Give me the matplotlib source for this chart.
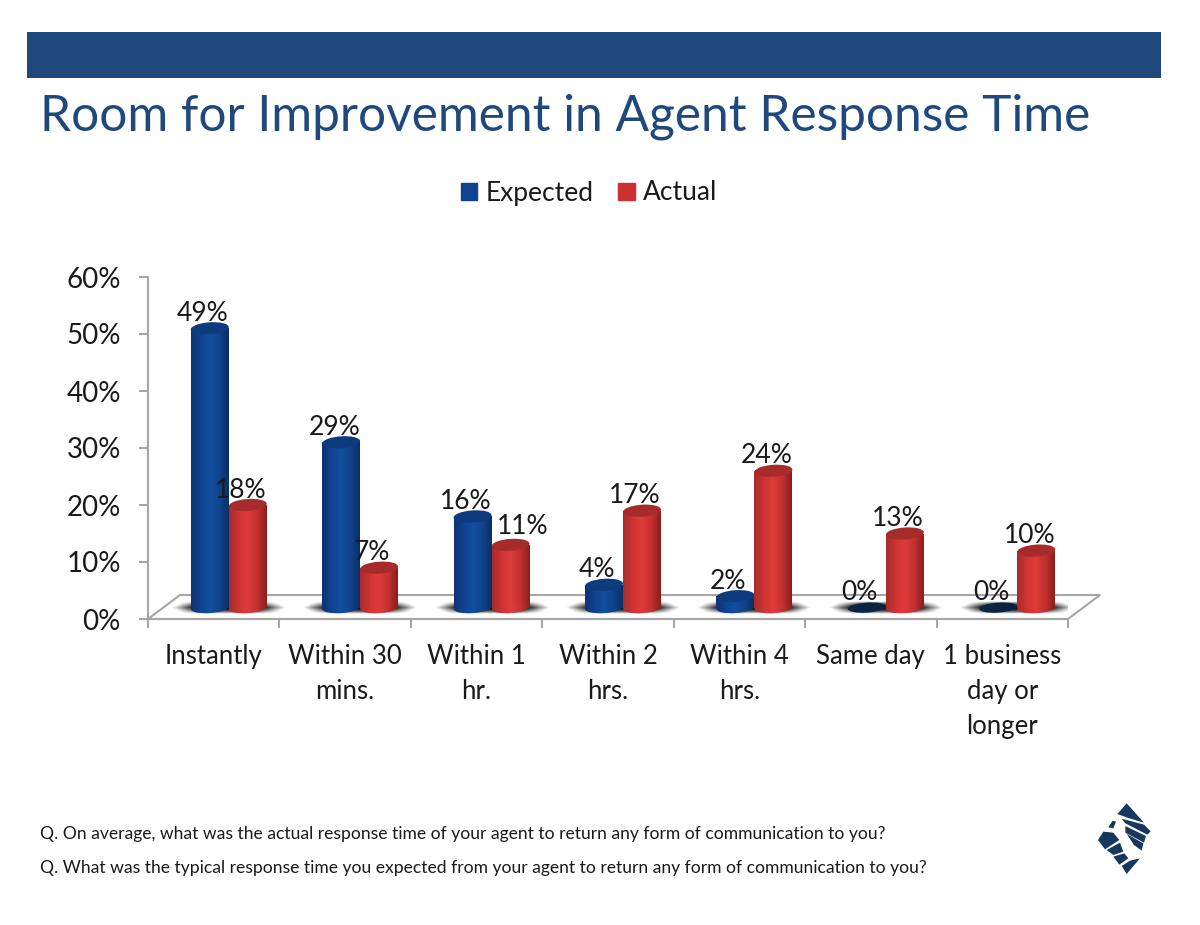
import matplotlib
matplotlib.use('Agg')
import matplotlib.pyplot as plt
import numpy as np
from matplotlib.colors import LinearSegmentedColormap
from matplotlib.patches import Ellipse, Patch, Polygon, Rectangle
from matplotlib.transforms import Affine2D

plt.rcParams['font.family'] = ['Lato', 'DejaVu Sans']

categories = ['Instantly', 'Within 30\nmins.', 'Within 1\nhr.', 'Within 2\nhrs.',
              'Within 4\nhrs.', 'Same day', '1 business\nday or\nlonger']
expected = [49, 29, 16, 4, 2, 0, 0]
actual = [18, 7, 11, 17, 24, 13, 10]
y_ticks = [0, 10, 20, 30, 40, 50, 60]

title = 'Room for Improvement in Agent Response Time'
questions = ['Q. On average, what was the actual response time of your agent to return any form of communication to you?',
             'Q. What was the typical response time you expected from your agent to return any form of communication to you?']

NAVY = '#1F497D'
GREY = '#A6A6A6'
TEXT = '#1a1a1a'
blue_map = LinearSegmentedColormap.from_list('b', ['#0D3272', '#0F4391', '#12509F', '#0F448C', '#0B2E68'])
red_map = LinearSegmentedColormap.from_list('r', ['#A92B2B', '#CF3433', '#DE3C3A', '#C43030', '#8C1E1E'])

fig = plt.figure(figsize=(12, 9.25), dpi=100, facecolor='white')

# page furniture, in pixel coordinates
bg = fig.add_axes([0, 0, 1, 1])
bg.set_xlim(0, 1200)
bg.set_ylim(925, 0)
bg.axis('off')
bg.add_patch(Rectangle((27, 32), 1134, 46, color=NAVY, lw=0))
bg.text(40, 117, title, color=NAVY, fontsize=35.7, va='center', ha='left')
bg.text(40, 834, questions[0], color=TEXT, fontsize=12.65, va='center')
bg.text(40, 868, questions[1], color=TEXT, fontsize=12.65, va='center')

# logo
logo = [[(172, 72), (200, 40), (252, 98), (205, 84)],
        [(185, 86), (252, 104), (272, 124), (262, 134), (196, 100)],
        [(196, 108), (258, 138), (252, 158), (196, 128)],
        [(200, 132), (250, 160), (245, 182), (222, 165)],
        [(114, 150), (130, 125), (160, 128), (178, 150), (135, 178)],
        [(140, 180), (180, 158), (190, 185), (160, 195)],
        [(160, 200), (193, 190), (205, 205), (178, 224)],
        [(185, 228), (210, 212), (240, 205), (200, 252)],
        [(145, 112), (158, 92), (168, 95), (160, 115)]]
for pts in logo:
    bg.add_patch(Polygon([(1060 + px / 3, 790 + py / 3) for px, py in pts], color='#17375E', lw=0))

# chart axes, 0% at pixel 619 and 60% at pixel 277
ax = fig.add_axes([148 / 1200, 1 - 619 / 925, 920 / 1200, 342 / 925])
ax.patch.set_alpha(0)
ax.set_xlim(0, 7)
ax.set_ylim(0, 60)
for side in ['top', 'right']:
    ax.spines[side].set_visible(False)
for side in ['left', 'bottom']:
    ax.spines[side].set_color(GREY)
    ax.spines[side].set_linewidth(1.5)

ax.set_yticks(y_ticks)
ax.set_yticklabels([str(v) + '%' for v in y_ticks], fontsize=20, color=TEXT)
ax.tick_params(axis='y', length=6.5, width=1.5, color=GREY, pad=13)
ax.set_xticks(range(8))
ax.set_xticklabels([])
ax.tick_params(axis='x', which='major', length=6.5, width=1.5, color=GREY)
ax.set_xticks(np.arange(7) + 0.5, minor=True)
ax.set_xticklabels(categories, minor=True, fontsize=18.5, color=TEXT, linespacing=1.5)
ax.tick_params(axis='x', which='minor', length=0, pad=18)

# floor of the 3d box
dx = 32 / 920 * 7
dy = 24 / 342 * 60
ax.add_patch(Polygon([(0, 0), (dx, dy), (7 + dx, dy), (7, 0)], closed=True, fc='white',
                     ec=GREY, lw=1.5, clip_on=False, zorder=1))

base = 2.0
width = 38 / 920 * 7
shift = 15 / 920 * 7
grad = np.linspace(0, 1, 64).reshape(1, -1)
sx = 920 / 7

# soft shadow: fades towards the ends and the long edges
u, v = np.meshgrid(np.linspace(-1, 1, 120), np.linspace(-1, 1, 24))
shadow = np.zeros(u.shape + (4,))
shadow[..., 3] = np.clip((1 - np.abs(u) - 0.2 * np.abs(v)) / 0.4, 0, 1) * (1 - v ** 2) * 0.95


def draw_cylinder(xc, value, cmap, top_color):
    left = xc - width / 2
    if value == 0:
        flat = Ellipse((0, 0), 38, 10, angle=4, fc='#0A2342', lw=0, zorder=4,
                       transform=Affine2D().translate(*ax.transData.transform((xc, base))))
        ax.add_patch(flat)
        return
    bar = ax.bar(xc, value, width=width, bottom=base, color='none', lw=0, zorder=3)[0]
    im = ax.imshow(grad, cmap=cmap, extent=(left, left + width, base - 2, base + value), aspect='auto', zorder=3)
    im.set_clip_path(bar)
    foot = Ellipse((0, 0), 38, 11, angle=4, fc='none', lw=0, zorder=3,
                   transform=Affine2D().translate(*ax.transData.transform((xc, base))))
    ax.add_patch(foot)
    im2 = ax.imshow(grad, cmap=cmap, extent=(left, left + width, base - 2, base + value), aspect='auto', zorder=3)
    im2.set_clip_path(foot)
    cap = Ellipse((0, 0), 38, 12, angle=4, fc=top_color, lw=0, zorder=4,
                  transform=Affine2D().translate(*ax.transData.transform((xc, base + value))))
    ax.add_patch(cap)


for i in range(len(categories)):
    centre = i + 0.5 + shift
    ax.imshow(shadow, aspect='auto', zorder=2,
              extent=(centre - 58 / sx, centre + 58 / sx, base - 1.1, base + 1.1))
    draw_cylinder(centre - width / 2, expected[i], blue_map, '#0E3A7E')
    draw_cylinder(centre + width / 2, actual[i], red_map, '#A62C2C')
    ax.annotate(str(expected[i]) + '%', (centre - width / 2, base + expected[i]), xytext=(-7, 15),
                textcoords='offset pixels', ha='center', va='center', fontsize=19, color=TEXT,
                zorder=6, annotation_clip=False)
    # the 11% label sits off to the right in the original
    offset = (12, 18) if actual[i] == 11 else (-7, 15)
    ax.annotate(str(actual[i]) + '%', (centre + width / 2, base + actual[i]), xytext=offset,
                textcoords='offset pixels', ha='center', va='center', fontsize=19, color=TEXT,
                zorder=6, annotation_clip=False)

ax.set_xlim(0, 7)
ax.set_ylim(0, 60)

handles = [Patch(color='#0F4391', label='Expected'), Patch(color='#C93230', label='Actual')]
bg.legend(handles=handles, loc='center', bbox_to_anchor=(589 / 1200, 1 - 193 / 925),
          bbox_transform=fig.transFigure, ncol=2, frameon=False, fontsize=19, labelcolor=TEXT,
          handlelength=0.62, handleheight=0.62, handletextpad=0.3, columnspacing=0.95)

fig.savefig('out.png', dpi=100)
